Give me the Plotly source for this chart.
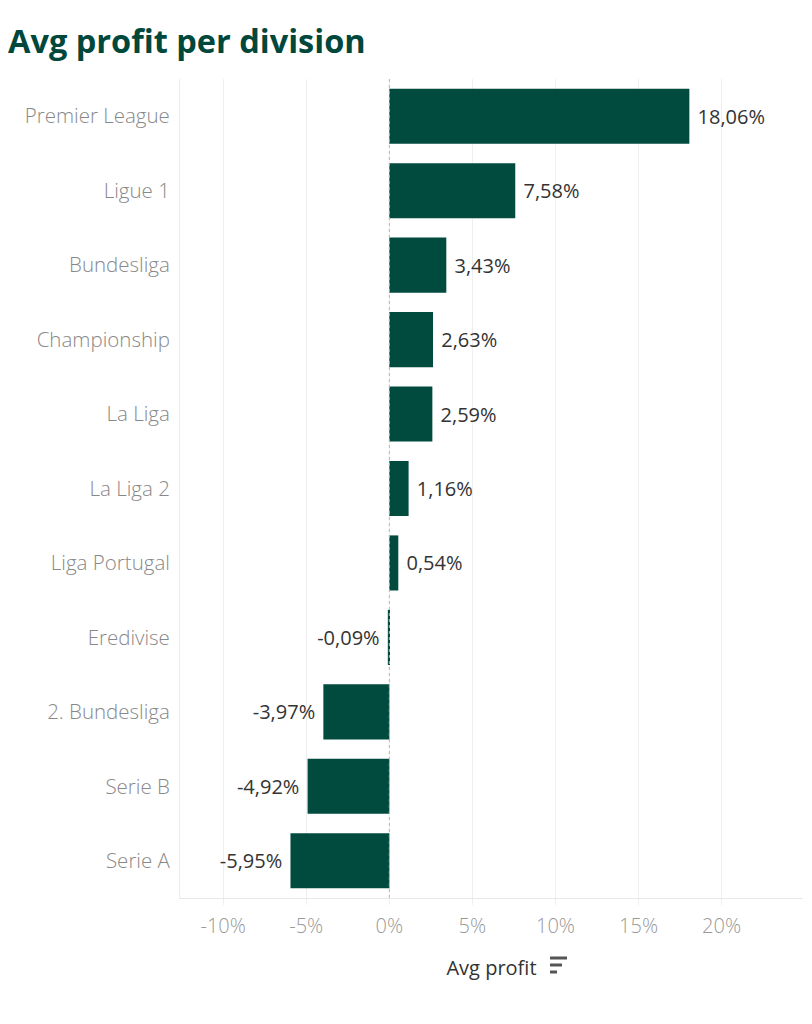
import plotly.graph_objects as go

divisions = ["Premier League", "Ligue 1", "Bundesliga", "Championship", "La Liga",
             "La Liga 2", "Liga Portugal", "Eredivise", "2. Bundesliga", "Serie B", "Serie A"]
avg_profit = [18.06, 7.58, 3.43, 2.63, 2.59, 1.16, 0.54, -0.09, -3.97, -4.92, -5.95]
tick_vals = [-10, -5, 0, 5, 10, 15, 20]
tick_text = ["-10%", "-5%", "0%", "5%", "10%", "15%", "20%"]

def fmt(v):
    s = f"{v:.2f}".replace(".", ",") + "%"
    return ("\u00a0" + s) if v >= 0 else (s + "\u00a0")

labels = [fmt(v) for v in avg_profit]

W, H = 804, 1016
ML, MR, MT, MB = 172, 9, 71, 126
PW, PH = W - ML - MR, H - MT - MB

BAR = "#004a3e"
FONT = "Open Sans"
fig = go.Figure(go.Bar(
    x=avg_profit, y=divisions, orientation="h",
    marker=dict(color=BAR, line=dict(width=0)),
    width=0.74,
    text=labels, textposition="outside", cliponaxis=False,
    textfont=dict(family=FONT, size=20, color="#333333", weight=400),
    hoverinfo="skip",
))

fig.add_vline(x=0, line=dict(color="#b5b5b5", width=1, dash="dot"))

fig.update_layout(
    width=W, height=H,
    margin=dict(l=ML, r=MR, t=MT, b=MB),
    paper_bgcolor="white", plot_bgcolor="white",
    showlegend=False,
    title=dict(text="<b>Avg profit per division</b>", x=0.0, xanchor="left",
               y=1 - 34 / H, yanchor="middle",
               font=dict(family=FONT, size=32.5, color="#00473c")),
    xaxis=dict(range=[-12.6, 24.9], tickvals=tick_vals, ticktext=tick_text,
               showgrid=True, gridcolor="#efefef", gridwidth=1, zeroline=False,
               showline=True, linecolor="#e8e8e8", linewidth=1,
               ticks="outside", ticklen=6, tickcolor="#efefef",
               ticklabelstandoff=4,
               tickfont=dict(family=FONT, size=20, color="#999999", weight=300),
               title=dict(text="Avg profit", standoff=22,
                          font=dict(family=FONT, size=20, color="#333333"))),
    yaxis=dict(autorange="reversed", showgrid=False, zeroline=False,
               showline=True, linecolor="#ececec", linewidth=1,
               ticks="", ticklabelstandoff=5,
               tickfont=dict(family=FONT, size=20.5, color="#888888", weight=300)),
)

# sort icon next to axis title (page pixels -> paper coords, page has 8px body offset)
for w, ypix in [(17, 958), (12, 965), (7, 972)]:
    yp = (MT + PH - (ypix - 8)) / PH
    x0 = (550 - 8 - ML) / PW
    fig.add_shape(type="line", xref="paper", yref="paper",
                  x0=x0, x1=x0 + w / PW, y0=yp, y1=yp,
                  line=dict(color="#555555", width=3))

fig.write_html("out.html")
